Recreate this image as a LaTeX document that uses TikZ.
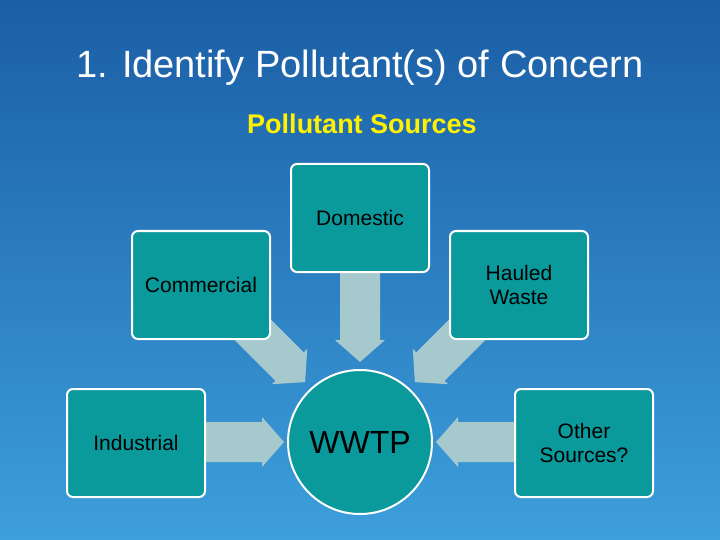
\documentclass[tikz,border=0pt]{standalone}
\usepackage{fontspec}
\setmainfont{Liberation Sans}
\definecolor{bgtop}{HTML}{1B5EA6}
\definecolor{bgbot}{HTML}{3D9FDC}
\definecolor{teal}{HTML}{0A9A9C}
\definecolor{arr}{HTML}{A6C9CD}
\newcommand{\blockarr}[4]{% x y angle length (starts at x,y pointing along angle)
  \begin{scope}[shift={(#1,#2)},rotate=#3]
  \fill[arr] (0,-20) -- (#4-22,-20) -- (#4-22,-25) -- (#4,0) -- (#4-22,25) -- (#4-22,20) -- (0,20) -- cycle;
  \end{scope}}
\begin{document}
\begin{tikzpicture}[x=1pt,y=-1pt,
  box/.style={draw=white,line width=2pt,fill=teal,rounded corners=6pt,minimum width=138pt,minimum height=108pt,align=center,font=\fontsize{21}{24}\selectfont,text=black}]
\shade[top color=bgtop,bottom color=bgbot] (0,0) rectangle (720,540);
\useasboundingbox (0,0) rectangle (720,540);
\node[text=white,font=\fontsize{38}{42}\selectfont] (t) at (360,68) {1. Identify Pollutant(s) of Concern};
\node[text=yellow,font=\bfseries\fontsize{27}{30}\selectfont] (s) at (362,124) {Pollutant Sources};
\blockarr{360}{272}{-90}{90}
\blockarr{245}{322}{-45}{85}
\blockarr{475}{322}{-135}{85}
\blockarr{206}{442}{0}{78}
\blockarr{514}{442}{180}{78}
\node[box] (dom) at (360,218) {Domestic};
\node[box] (com) at (201,285) {Commercial};
\node[box] (hau) at (519,285) {Hauled\\Waste};
\node[box] (ind) at (136,443) {Industrial};
\node[box] (oth) at (584,443) {Other\\Sources?};
\node[circle,draw=white,line width=2pt,fill=teal,minimum size=144pt,font=\fontsize{32}{36}\selectfont] (w) at (360,442) {WWTP};
\end{tikzpicture}
\end{document}
